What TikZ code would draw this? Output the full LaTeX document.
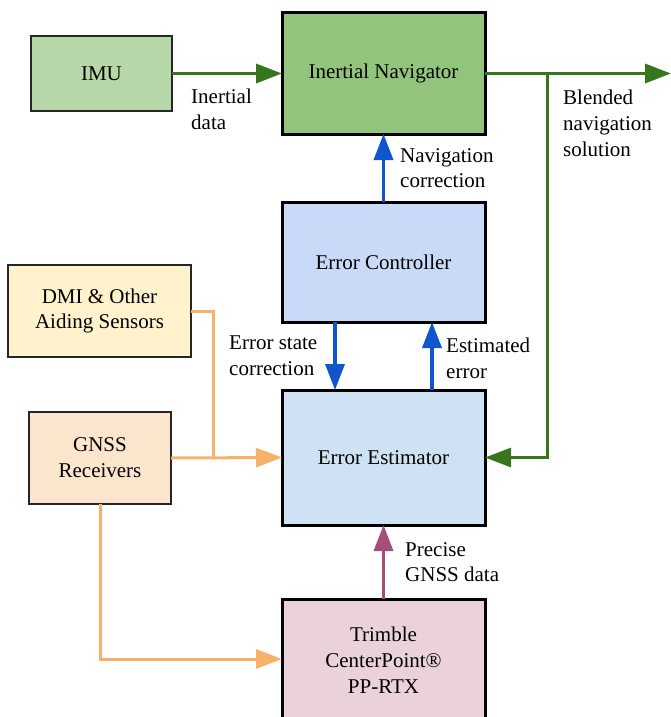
\documentclass[tikz,border=0pt]{standalone}
\usepackage{fontspec}
\setmainfont{Liberation Serif}
\usetikzlibrary{arrows.meta}
\definecolor{gfill}{HTML}{B6D7A8}
\definecolor{gfilldark}{HTML}{93C47D}
\definecolor{bfillA}{HTML}{C9DAF8}
\definecolor{bfillB}{HTML}{CFE2F3}
\definecolor{yfill}{HTML}{FFF2CC}
\definecolor{ofill}{HTML}{FCE5CD}
\definecolor{pfill}{HTML}{EAD1DC}
\definecolor{garrow}{HTML}{38761D}
\definecolor{barrow}{HTML}{1155CC}
\definecolor{oarrow}{HTML}{F6B26B}
\definecolor{parrow}{HTML}{A64D79}
\begin{document}
\begin{tikzpicture}[x=1pt,y=-1pt,
  every node/.style={font=\rmfamily\fontsize{21}{25.8}\selectfont},
  thinbox/.style={draw=black!85,line width=1.5pt,rectangle,align=center,inner sep=0pt,outer sep=0pt},
  thickbox/.style={draw=black,line width=3pt,rectangle,align=center,inner sep=0pt,outer sep=0pt},
  lbl/.style={anchor=north west,align=left,inner sep=0pt},
  conn/.style={line width=3.5pt,-{Triangle[length=26pt,width=19pt]}},
  oconn/.style={line width=3pt,draw=oarrow,-{Triangle[length=26pt,width=19pt]}}
]
\useasboundingbox (0,0) rectangle (671,717);
\clip (0,0) rectangle (671,717);

% boxes
\node[thinbox,fill=gfill,minimum width=141pt,minimum height=75pt] (imu) at (101.5,73.5) {IMU};
\node[thickbox,fill=gfilldark,minimum width=203pt,minimum height=121pt] (nav) at (383.5,73.5) {Inertial Navigator};
\node[thickbox,fill=bfillA,minimum width=203pt,minimum height=120pt] (ctrl) at (383.5,262) {Error Controller};
\node[thinbox,fill=yfill,minimum width=183pt,minimum height=92pt] (dmi) at (99.5,311) {DMI \& Other\\Aiding Sensors};
\node[thinbox,fill=ofill,minimum width=142pt,minimum height=92pt] (gnss) at (100,458) {GNSS\\Receivers};
\node[thickbox,fill=bfillB,minimum width=203pt,minimum height=135pt] (est) at (383.5,457.5) {Error Estimator};
\node[thickbox,fill=pfill,minimum width=203pt,minimum height=122pt] (trim) at (383.5,660) {Trimble\\CenterPoint®\\PP-RTX};

% coordinates
\coordinate (outR) at (671,73.5);
\coordinate (br) at (547,73.5);
\coordinate (brd) at (547,457.5);
\coordinate (dmij) at (213,311);
\coordinate (gj) at (213,458);
\coordinate (gd) at (100,659);

% green
\draw[conn,garrow] (imu.east) -- (nav.west);
\draw[conn,garrow] (nav.east) -- (outR);
\draw[conn,garrow,line width=3pt] (br) -- (brd) -- (est.east);

% blue
\draw[conn,barrow] (ctrl.north) -- (nav.south);
\draw[conn,barrow] ([xshift=-48.5pt]ctrl.south) -- ([xshift=-48.5pt]est.north);
\draw[conn,barrow] ([xshift=48.5pt]est.north) -- ([xshift=48.5pt]ctrl.south);

% purple
\draw[conn,parrow] (trim.north) -- (est.south);

% orange
\draw[line width=3pt,oarrow] (dmi.east) -- (dmij) -- (gj);
\draw[oconn] (gnss.east) -- (est.west);
\draw[oconn] (gnss.south -| gd) -- (gd) -- (trim.west |- gd);

% labels
\node[lbl] (l1) at (191,89) {Inertial\\data};
\node[lbl] (l2) at (563,90) {Blended\\navigation\\solution};
\node[lbl] (l3) at (400,148) {Navigation\\correction};
\node[lbl] (l4) at (229,336) {Error state\\correction};
\node[lbl] (l5) at (446,338) {Estimated\\error};
\node[lbl] (l6) at (405,542) {Precise\\GNSS data};
\end{tikzpicture}
\end{document}
